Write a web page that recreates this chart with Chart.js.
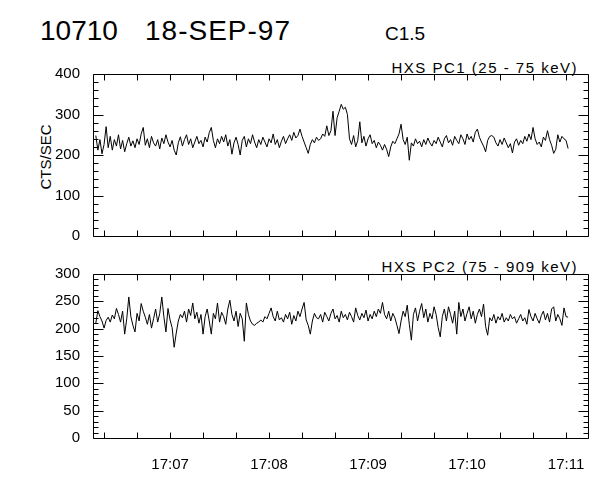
<!DOCTYPE html>
<html>
<head>
<meta charset="utf-8">
<script src="https://cdn.jsdelivr.net/npm/chart.js@4.4.1/dist/chart.umd.min.js"></script>
<style>
  body { margin: 0; background: #fff; }
  #wrap { position: relative; width: 600px; height: 480px; font-family: "Liberation Sans", Arial, sans-serif; color: #000; }
  .txt { position: absolute; line-height: 1; white-space: nowrap; }
  canvas { position: absolute; left: 0; }
</style>
</head>
<body>
<div id="wrap">
  <div class="txt" style="left:40px;top:17px;font-size:28px;">10710</div>
  <div class="txt" style="left:145px;top:17px;font-size:28px;letter-spacing:1px;">18-SEP-97</div>
  <div class="txt" style="left:385px;top:24px;font-size:19px;">C1.5</div>
  <div class="txt" style="right:22px;top:60px;font-size:15px;letter-spacing:1.5px;">HXS PC1 (25 - 75 keV)</div>
  <div class="txt" style="right:22px;top:259px;font-size:15px;letter-spacing:1.5px;">HXS PC2 (75 - 909 keV)</div>
  <div class="txt" style="left:45px;top:157px;font-size:15px;transform:translate(-50%,-50%) rotate(-90deg);">CTS/SEC</div>
  <canvas id="pc1" width="600" height="250" style="top:0"></canvas>
  <canvas id="pc2" width="600" height="230" style="top:250px"></canvas>
</div>
<script>
// time axis in seconds after 17:00:00
const START_SEC = 375;
const STEP_SEC = 1.25;
const X_MIN = 373.3;
const X_MAX = 673.3;
const X_TICKS = [380, 400, 420, 440, 460, 480, 500, 520, 540, 560, 580, 600, 620, 640, 660];

// HXS PC1 (25 - 75 keV), counts/s
const pc1 = [
  248, 212, 238, 203, 226, 270, 218, 246, 212, 238, 222, 250, 215, 236, 208, 228, 244, 222, 235, 218,
  240, 226, 252, 268, 224, 240, 218, 246, 230, 222, 238, 215, 242, 228, 250, 232, 220, 236, 212, 200,
  230, 245, 222, 238, 250, 226, 240, 218, 232, 246, 228, 236, 220, 244, 232, 255, 268, 236, 218, 240,
  228, 246, 232, 250, 222, 238, 202, 230, 244, 226, 200, 236, 246, 220, 240, 228, 250, 232, 218, 238,
  226, 244, 232, 220, 240, 230, 252, 226, 238, 218, 234, 246, 228, 240, 250, 236, 256, 242, 248, 264,
  246, 232, 218, 204, 226, 238, 230, 244, 236, 240, 252, 246, 272, 248, 260, 308, 248, 292, 308, 325,
  313, 318, 300, 240, 226, 248, 220, 236, 282, 230, 246, 222, 240, 250, 228, 236, 218, 232, 224, 212,
  226, 214, 196, 220, 234, 228, 240, 252, 276, 238, 226, 244, 187, 230, 222, 240, 228, 234, 220, 238,
  226, 242, 230, 222, 236, 228, 244, 232, 220, 240, 248, 230, 238, 224, 246, 236, 228, 250, 240, 226,
  252, 238, 246, 232, 256, 264, 244, 232, 222, 208, 236, 246, 248, 244, 230, 222, 238, 226, 242, 230,
  218, 228, 205, 232, 240, 224, 236, 228, 246, 234, 252, 238, 268, 240, 226, 232, 220, 244, 236, 260,
  238, 224, 204, 214, 250, 232, 246, 240, 236, 216
];

// HXS PC2 (75 - 909 keV), counts/s
const pc2 = [
  210, 233, 222, 214, 201, 215, 221, 212, 225, 218, 237, 226, 212, 232, 190, 218, 258, 222, 206, 194,
  228, 214, 246, 232, 221, 208, 226, 201, 218, 236, 212, 228, 258, 222, 194, 237, 216, 202, 166, 192,
  214, 226, 220, 232, 212, 236, 224, 247, 218, 230, 210, 226, 190, 222, 236, 214, 190, 228, 218, 247,
  212, 230, 222, 208, 236, 252, 226, 214, 232, 204, 228, 218, 177, 247, 226, 214, 208, 206, 210, 212,
  216, 212, 222, 218, 228, 238, 222, 214, 232, 216, 220, 212, 226, 218, 230, 208, 224, 214, 232, 222,
  236, 248, 216, 206, 190, 214, 228, 220, 218, 226, 212, 230, 222, 214, 228, 236, 218, 224, 212, 232,
  220, 226, 216, 230, 222, 212, 238, 224, 216, 228, 220, 234, 214, 226, 218, 232, 222, 236, 228, 248,
  226, 218, 232, 214, 228, 220, 206, 191, 214, 232, 222, 243, 208, 179, 226, 238, 214, 232, 246, 220,
  236, 212, 228, 218, 240, 226, 202, 185, 222, 236, 214, 240, 226, 210, 232, 190, 248, 222, 236, 214,
  228, 240, 218, 232, 210, 226, 236, 222, 245, 204, 188, 220, 214, 226, 210, 222, 216, 228, 212, 220,
  214, 226, 218, 222, 210, 218, 226, 214, 220, 208, 235, 222, 214, 228, 218, 210, 224, 232, 216, 228,
  212, 236, 240, 214, 226, 218, 206, 238, 222, 221
];

// y ticks: labelled majors and minors
const PC1_MAJOR = [0, 100, 200, 300, 400];
const PC1_MINOR = [20, 40, 60, 80, 120, 140, 160, 180, 220, 240, 260, 280, 320, 340, 360, 380];
const PC2_MAJOR = [0, 50, 100, 150, 200, 250, 300];
const PC2_MINOR = [10, 20, 30, 40, 60, 70, 80, 90, 110, 120, 130, 140, 160, 170, 180, 190, 210, 220, 230, 240, 260, 270, 280, 290];

const FONT = { family: '"Liberation Sans", Arial, sans-serif', size: 15 };

function toPoints(values) {
    return values.map((v, i) => ({ x: START_SEC + i * STEP_SEC, y: v }));
}

function minuteLabel(v) {
    if (v % 60 !== 0) return '';
    return '17:' + String(v / 60).padStart(2, '0');
}

// IDL style box: frame plus inward ticks on every side
const boxPlugin = {
    id: 'box',
    afterDraw(chart, args, opts) {
        const ctx = chart.ctx;
        const a = chart.chartArea;
        const xs = chart.scales.x, ys = chart.scales.y;
        const L = Math.round(a.left) + 0.5, R = Math.round(a.right) + 0.5;
        const T = Math.round(a.top) + 0.5, B = Math.round(a.bottom) + 0.5;
        ctx.save();
        ctx.strokeStyle = '#000';
        ctx.lineWidth = 1;
        ctx.beginPath();
        ctx.rect(L, T, R - L, B - T);
        X_TICKS.forEach(v => {
            const px = Math.round(xs.getPixelForValue(v)) + 0.5;
            ctx.moveTo(px, B); ctx.lineTo(px, B - 6);
            ctx.moveTo(px, T); ctx.lineTo(px, T + 6);
        });
        const yTick = (v, len) => {
            const py = Math.round(ys.getPixelForValue(v)) + 0.5;
            ctx.moveTo(L, py); ctx.lineTo(L + len, py);
            ctx.moveTo(R, py); ctx.lineTo(R - len, py);
        };
        opts.major.forEach(v => yTick(v, 10));
        opts.minor.forEach(v => yTick(v, 5));
        ctx.stroke();
        ctx.restore();
    }
};

function makeChart(id, values, yMax, yStep, major, minor, padTop, xHeight, showX) {
    return new Chart(document.getElementById(id), {
        type: 'line',
        data: {
            datasets: [{
                data: toPoints(values),
                borderColor: '#000',
                borderWidth: 1,
                pointRadius: 0,
                tension: 0,
                fill: false
            }]
        },
        options: {
            responsive: false,
            devicePixelRatio: 1,
            animation: false,
            layout: { padding: { left: 0, right: 12, top: padTop, bottom: 0 } },
            plugins: {
                legend: { display: false },
                tooltip: { enabled: false },
                box: { major: major, minor: minor }
            },
            scales: {
                x: {
                    type: 'linear',
                    min: X_MIN,
                    max: X_MAX,
                    afterBuildTicks: s => { s.ticks = X_TICKS.map(v => ({ value: v })); },
                    afterFit: s => { s.height = xHeight; },
                    grid: { display: false },
                    border: { display: false },
                    ticks: {
                        display: showX,
                        autoSkip: false,
                        maxRotation: 0,
                        padding: 10,
                        color: '#000',
                        font: FONT,
                        callback: v => minuteLabel(v)
                    }
                },
                y: {
                    min: 0,
                    max: yMax,
                    afterBuildTicks: s => { s.ticks = major.map(v => ({ value: v })); },
                    afterFit: s => { s.width = 93; },
                    grid: { display: false },
                    border: { display: false },
                    ticks: { stepSize: yStep, padding: 5, color: '#000', font: FONT }
                }
            }
        },
        plugins: [boxPlugin]
    });
}

makeChart('pc1', pc1, 400, 100, PC1_MAJOR, PC1_MINOR, 74, 11, false);
makeChart('pc2', pc2, 300, 50, PC2_MAJOR, PC2_MINOR, 24, 42, true);
</script>
</body>
</html>
